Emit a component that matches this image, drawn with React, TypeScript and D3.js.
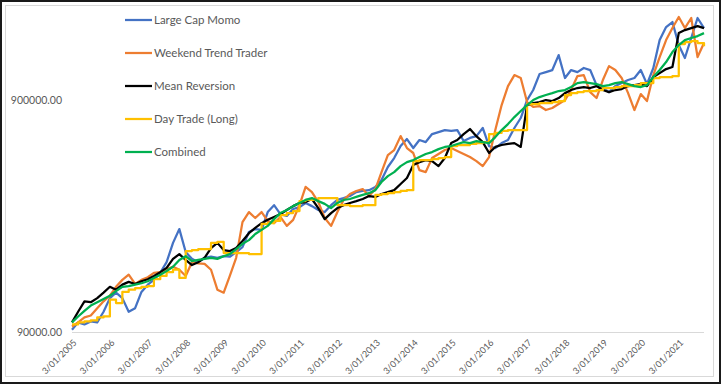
import React from 'react';
import * as d3 from 'd3';

// values in thousands, one point every two months from 3/01/2005
const START = new Date(2005, 0, 3);
const dates = d3.range(101).map(k => d3.timeMonth.offset(START, k * 2));

const largeCapMomo = [92, 99, 97, 100, 99, 110, 126, 133, 126, 110,
  114, 134, 144, 151, 162, 180, 218, 250, 199, 186,
  180, 188, 190, 188, 191, 190, 199, 209, 243, 250,
  248, 296, 317, 290, 285, 305, 311, 324, 314, 302,
  296, 317, 334, 340, 347, 361, 365, 368, 380, 407,
  463, 506, 570, 611, 559, 605, 593, 642, 655, 668,
  662, 668, 599, 618, 629, 682, 570, 559, 587, 605,
  682, 753, 900, 994, 1165, 1188, 1212, 1406, 1120, 1212,
  1188, 1237, 1212, 1044, 1014, 974, 1034, 1065, 1098, 1120,
  1212, 1054, 1237, 1632, 1857, 1952, 1553, 1366, 1666, 2032,
  1839];

const weekendTrend = [95, 99, 104, 106, 114, 122, 129, 141, 151, 159,
  145, 151, 155, 162, 163, 168, 172, 167, 157, 180,
  178, 177, 167, 137, 133, 157, 188, 268, 296, 279,
  296, 271, 265, 282, 258, 274, 317, 380, 361, 327,
  279, 258, 296, 334, 354, 365, 372, 347, 372, 440,
  521, 548, 629, 559, 532, 449, 440, 506, 527, 548,
  559, 543, 527, 511, 491, 467, 511, 668, 856, 1034,
  1153, 1120, 882, 840, 848, 815, 832, 865, 900, 994,
  1142, 1153, 974, 918, 1098, 1260, 1212, 1120, 964, 815,
  955, 891, 1153, 1379, 1632, 1839, 2052, 1839, 2032, 1379,
  1584];

const meanReversion = [99, 110, 122, 121, 126, 133, 141, 137, 144, 148,
  145, 149, 152, 157, 163, 170, 186, 195, 184, 175,
  180, 188, 207, 218, 203, 201, 207, 222, 240, 253,
  265, 274, 282, 290, 302, 314, 324, 327, 337, 308,
  276, 293, 308, 317, 324, 330, 337, 347, 344, 354,
  361, 368, 391, 415, 472, 486, 496, 491, 467, 506,
  587, 605, 642, 675, 629, 593, 532, 565, 576, 582,
  587, 565, 856, 873, 882, 900, 891, 918, 964, 994,
  1014, 1024, 1014, 1034, 994, 974, 994, 1004, 1034, 1044,
  1054, 1034, 1131, 1176, 1224, 1249, 1749, 1802, 1839, 1875,
  1839];

const dayTradeLong = [97, 99, 100, 101, 104, 105, 124, 120, 134, 137,
  139, 141, 142, 152, 157, 163, 167, 154, 201, 203,
  205, 205, 218, 220, 197, 197, 197, 197, 195, 195,
  263, 265, 271, 287, 293, 299, 330, 334, 334, 340,
  340, 340, 317, 317, 314, 314, 317, 317, 351, 354,
  357, 361, 365, 368, 491, 496, 496, 501, 506, 511,
  570, 576, 576, 582, 587, 593, 642, 649, 662, 668,
  668, 668, 865, 865, 873, 873, 882, 891, 946, 964,
  974, 984, 984, 994, 1014, 1014, 1024, 1034, 1034, 1044,
  1065, 1065, 1120, 1131, 1131, 1142, 1569, 1600, 1616, 1584,
  1537];

const combined = [99, 105, 111, 117, 121, 125, 129, 135, 141, 142,
  144, 146, 149, 154, 159, 165, 172, 184, 191, 182,
  184, 186, 188, 186, 191, 195, 205, 216, 224, 238,
  248, 258, 276, 293, 302, 314, 324, 334, 340, 330,
  321, 308, 324, 334, 337, 344, 351, 357, 368, 399,
  423, 440, 467, 486, 496, 511, 527, 537, 553, 565,
  570, 582, 593, 587, 599, 593, 587, 623, 668, 709,
  760, 807, 856, 900, 927, 946, 964, 984, 994, 1024,
  1065, 1076, 1065, 1054, 1034, 1044, 1065, 1076, 1054, 1034,
  1024, 1044, 1131, 1212, 1312, 1449, 1553, 1632, 1666, 1698,
  1749];

const seriesNames = ['Large Cap Momo', 'Weekend Trend Trader', 'Mean Reversion', 'Day Trade (Long)', 'Combined'];
const seriesValues = [largeCapMomo, weekendTrend, meanReversion, dayTradeLong, combined];
const seriesColors = ['#4472C4', '#ED7D31', '#000000', '#FFC000', '#00B050'];

const xTickLabels = ['3/01/2005', '3/01/2006', '3/01/2007', '3/01/2008', '3/01/2009', '3/01/2010',
  '3/01/2011', '3/01/2012', '3/01/2013', '3/01/2014', '3/01/2015', '3/01/2016', '3/01/2017',
  '3/01/2018', '3/01/2019', '3/01/2020', '3/01/2021'];
const yTicks = [90000, 900000];

const W = 721;
const H = 384;
const FONT = 'Lato, "Open Sans", sans-serif';
const TEXT = '#595959';

const App: React.FC = () => {
  const x = d3.scaleTime()
    .domain([dates[0], dates[dates.length - 1]])
    .range([72, 704]);
  const y = d3.scaleLog()
    .domain([90000, 2200000])
    .range([332, 10]);

  const parse = d3.timeParse('%d/%m/%Y');
  const fmtY = d3.format('.2f');

  const line = (vals: number[], step: boolean) =>
    d3.line<number>()
      .x((_, i) => x(dates[i]))
      .y(v => y(v * 1000))
      .curve(step ? d3.curveStepAfter : d3.curveLinear)(vals) || '';

  return (
    <div style={{ position: 'absolute', left: 0, top: 0 }}>
      <svg width={W} height={H} style={{ display: 'block', background: '#fff' }}>
        <rect x={1} y={1} width={W - 2} height={H - 2} fill="#fff" stroke="#1a1a1a" strokeWidth={2} />
        <rect x={5.5} y={5.5} width={708} height={371} fill="none" stroke="#d9d9d9" strokeWidth={1} />

        <line x1={72} x2={704} y1={332.5} y2={332.5} stroke="#d9d9d9" strokeWidth={1} />

        {yTicks.map(t => (
          <text key={t} x={62} y={y(t) + 4} textAnchor="end" fontSize={10.5}
            fontFamily={FONT} fill={TEXT}>{fmtY(t)}</text>
        ))}

        {xTickLabels.map(lbl => {
          const tx = x(parse(lbl) as Date);
          return (
            <text key={lbl} transform={`translate(${tx + 3},${341}) rotate(-45)`}
              textAnchor="end" dy="0.35em" fontSize={9} fontFamily={FONT} fill={TEXT}>{lbl}</text>
          );
        })}

        {seriesValues.map((vals, i) => (
          <path key={seriesNames[i]} d={line(vals, i === 3)} fill="none"
            stroke={seriesColors[i]} strokeWidth={2.25} strokeLinejoin="round" />
        ))}

        {seriesNames.map((name, i) => {
          const ly = 20 + i * 33;
          return (
            <g key={name}>
              <line x1={125} x2={152} y1={ly} y2={ly} stroke={seriesColors[i]} strokeWidth={2.25} />
              <text x={154} y={ly + 4} fontSize={11.5} fontFamily={FONT} fill={TEXT}>{name}</text>
            </g>
          );
        })}
      </svg>
    </div>
  );
};

export default App;
